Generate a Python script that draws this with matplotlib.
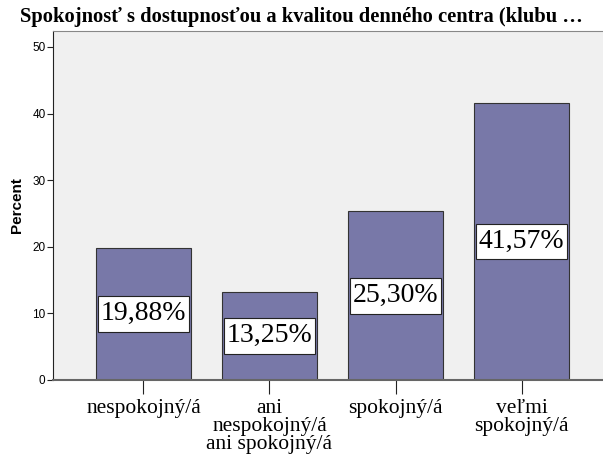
import matplotlib.pyplot as plt
import numpy as np
from matplotlib.path import Path

categories = ["nespokojný/á", "ani\nnespokojný/á\nani spokojný/á", "spokojný/á", "veľmi\nspokojný/á"]
percents = [19.88, 13.25, 25.30, 41.57]
labels = ["19,88%", "13,25%", "25,30%", "41,57%"]


# box with separate horizontal and vertical padding
def label_box(x0, y0, width, height, mutation_size):
    px = 0.11 * mutation_size
    py = 0.19 * mutation_size
    x0, y0 = x0 - px, y0 - py
    x1, y1 = x0 + width + 2 * px, y0 + height + 2 * py
    return Path([(x0, y0), (x1, y0), (x1, y1), (x0, y1), (x0, y0)], closed=True)


fig = plt.figure(figsize=(6.03, 4.62), dpi=100)
ax = fig.add_axes([52.5 / 603, 82 / 462, 560 / 603, 349 / 462])
ax.set_facecolor("#f0f0f0")

x = np.arange(len(categories))
ax.bar(x, percents, width=0.754, color="#7878a8", edgecolor="#333333", linewidth=0.8, zorder=2)

for xi, v, lab in zip(x, percents, labels):
    ax.text(xi, v / 2, lab, ha="center", va="center", family="Liberation Serif", fontsize=20,
            bbox=dict(boxstyle=label_box, facecolor="white", edgecolor="#222222", linewidth=0.8),
            zorder=3)

ax.set_xlim(-0.722, 3.722)
ax.set_ylim(0, 52.4)
ax.set_yticks([0, 10, 20, 30, 40, 50])
ax.set_xticks(x)
ax.set_xticklabels(categories, family="Liberation Serif", fontsize=15.5, linespacing=0.92)
ax.tick_params(axis="x", length=10, width=0.8, color="#222222", pad=4)
ax.tick_params(axis="y", length=4, width=0.8, color="#222222", labelsize=8.5, pad=1)
for t in ax.get_yticklabels():
    t.set_family("Liberation Sans")

ax.set_ylabel("Percent", family="Liberation Sans", fontweight="bold", fontsize=11, labelpad=6)

ax.spines["right"].set_visible(False)
ax.spines["top"].set_color("#888888")
ax.spines["left"].set_color("#222222")
ax.spines["bottom"].set_color("#666666")
ax.spines["bottom"].set_linewidth(1.5)

fig.text(0.5, 0.963, "Spokojnosť s dostupnosťou a kvalitou denného centra (klubu …",
         ha="center", va="center", family="Liberation Serif", fontweight="bold", fontsize=14.75)

fig.savefig("out.png", dpi=100)
